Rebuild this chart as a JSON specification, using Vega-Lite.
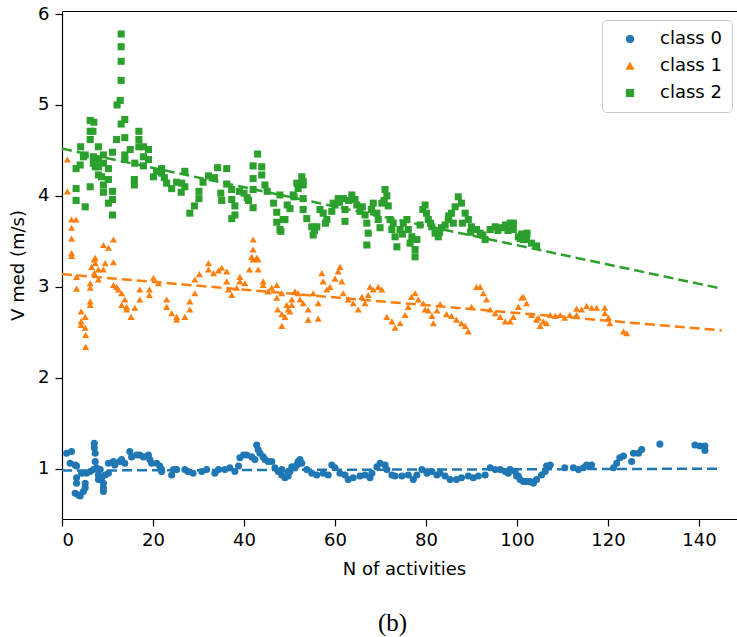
{
"$schema":"https://vega.github.io/schema/vega-lite/v6.json",
"width":675,"height":508,
"autosize":"none",
"padding":{"left":62,"top":11,"right":0,"bottom":118},
"config":{"view":{"stroke":null},"font":"DejaVu Sans",
 "axis":{"domainColor":"black","domainWidth":1.2,"tickColor":"black","tickWidth":1.2,"tickSize":7,"labelFont":"DejaVu Sans","labelFontSize":18,"labelColor":"black","titleFont":"DejaVu Sans","titleFontSize":18,"titleFontWeight":"normal","titleColor":"black","grid":false,"labelPadding":5}},
"title":{"text":"(b)","orient":"bottom","font":"Liberation Serif","fontSize":25,"fontWeight":"normal","offset":33,"dx":-7,"color":"black","anchor":"middle"},
"datasets":{
"fit":[{"n":0,"v":0.98,"c":"class 0"},{"n":145,"v":1.0,"c":"class 0"},{"n":0,"v":3.14,"c":"class 1"},{"n":145,"v":2.52,"c":"class 1"},{"n":0,"v":4.52,"c":"class 2"},{"n":145,"v":2.98,"c":"class 2"}],
"pts":[
{"n":1.0,"v":1.17,"c":"class 0"},{"n":2.1,"v":1.19,"c":"class 0"},{"n":1.8,"v":1.06,"c":"class 0"},{"n":2.9,"v":1.04,"c":"class 0"},{"n":3.2,"v":1.03,"c":"class 0"},{"n":3.2,"v":0.90,"c":"class 0"},{"n":3.2,"v":0.84,"c":"class 0"},{"n":2.9,"v":0.73,"c":"class 0"},{"n":3.6,"v":0.71,"c":"class 0"},{"n":4.0,"v":0.70,"c":"class 0"},{"n":4.7,"v":0.75,"c":"class 0"},{"n":5.1,"v":0.79,"c":"class 0"},{"n":5.1,"v":0.84,"c":"class 0"},{"n":4.3,"v":0.95,"c":"class 0"},{"n":5.4,"v":0.95,"c":"class 0"},{"n":6.2,"v":0.97,"c":"class 0"},{"n":7.1,"v":1.28,"c":"class 0"},{"n":7.1,"v":1.23,"c":"class 0"},{"n":7.3,"v":1.17,"c":"class 0"},{"n":7.3,"v":1.08,"c":"class 0"},{"n":6.9,"v":0.99,"c":"class 0"},{"n":7.6,"v":1.01,"c":"class 0"},{"n":8.4,"v":0.99,"c":"class 0"},{"n":8.0,"v":0.93,"c":"class 0"},{"n":8.0,"v":0.88,"c":"class 0"},{"n":8.7,"v":0.90,"c":"class 0"},{"n":9.1,"v":0.84,"c":"class 0"},{"n":9.1,"v":0.79,"c":"class 0"},{"n":9.1,"v":0.75,"c":"class 0"},{"n":9.5,"v":0.93,"c":"class 0"},{"n":10.2,"v":0.95,"c":"class 0"},{"n":10.2,"v":1.06,"c":"class 0"},{"n":11.3,"v":1.08,"c":"class 0"},{"n":11.6,"v":1.04,"c":"class 0"},{"n":12.7,"v":1.08,"c":"class 0"},{"n":13.1,"v":1.10,"c":"class 0"},{"n":13.8,"v":1.06,"c":"class 0"},{"n":14.9,"v":1.19,"c":"class 0"},{"n":15.3,"v":1.13,"c":"class 0"},{"n":16.4,"v":1.15,"c":"class 0"},{"n":17.1,"v":1.15,"c":"class 0"},{"n":17.9,"v":1.13,"c":"class 0"},{"n":19.0,"v":1.15,"c":"class 0"},{"n":19.3,"v":1.10,"c":"class 0"},{"n":19.7,"v":1.06,"c":"class 0"},{"n":20.8,"v":1.06,"c":"class 0"},{"n":21.5,"v":1.03,"c":"class 0"},{"n":21.9,"v":0.99,"c":"class 0"},{"n":21.9,"v":0.97,"c":"class 0"},{"n":24.1,"v":0.93,"c":"class 0"},{"n":24.5,"v":0.99,"c":"class 0"},{"n":25.2,"v":0.99,"c":"class 0"},{"n":27.0,"v":0.99,"c":"class 0"},{"n":27.7,"v":0.97,"c":"class 0"},{"n":28.8,"v":0.95,"c":"class 0"},{"n":30.7,"v":0.97,"c":"class 0"},{"n":31.8,"v":0.99,"c":"class 0"},{"n":33.6,"v":0.95,"c":"class 0"},{"n":34.4,"v":0.99,"c":"class 0"},{"n":35.8,"v":0.99,"c":"class 0"},{"n":36.9,"v":1.01,"c":"class 0"},{"n":38.0,"v":0.97,"c":"class 0"},{"n":38.8,"v":1.03,"c":"class 0"},{"n":39.1,"v":1.12,"c":"class 0"},{"n":39.9,"v":1.15,"c":"class 0"},{"n":40.6,"v":1.15,"c":"class 0"},{"n":41.7,"v":1.13,"c":"class 0"},{"n":42.4,"v":1.10,"c":"class 0"},{"n":42.8,"v":1.26,"c":"class 0"},{"n":43.1,"v":1.21,"c":"class 0"},{"n":43.5,"v":1.17,"c":"class 0"},{"n":44.2,"v":1.13,"c":"class 0"},{"n":44.6,"v":1.10,"c":"class 0"},{"n":45.3,"v":1.08,"c":"class 0"},{"n":46.1,"v":1.08,"c":"class 0"},{"n":46.8,"v":1.01,"c":"class 0"},{"n":47.5,"v":0.97,"c":"class 0"},{"n":48.3,"v":0.93,"c":"class 0"},{"n":49.0,"v":0.90,"c":"class 0"},{"n":49.7,"v":0.92,"c":"class 0"},{"n":50.1,"v":0.97,"c":"class 0"},{"n":51.2,"v":1.01,"c":"class 0"},{"n":51.9,"v":1.08,"c":"class 0"},{"n":52.7,"v":1.06,"c":"class 0"},
{"n":48.3,"v":0.99,"c":"class 0"},{"n":49.7,"v":0.97,"c":"class 0"},{"n":50.5,"v":1.02,"c":"class 0"},{"n":51.6,"v":1.04,"c":"class 0"},{"n":52.3,"v":1.10,"c":"class 0"},{"n":53.8,"v":0.99,"c":"class 0"},{"n":54.9,"v":0.95,"c":"class 0"},{"n":56.0,"v":0.93,"c":"class 0"},{"n":57.4,"v":0.95,"c":"class 0"},{"n":58.5,"v":0.93,"c":"class 0"},{"n":59.3,"v":1.04,"c":"class 0"},{"n":60.0,"v":1.01,"c":"class 0"},{"n":61.1,"v":0.95,"c":"class 0"},{"n":62.2,"v":0.93,"c":"class 0"},{"n":62.9,"v":0.88,"c":"class 0"},{"n":64.0,"v":0.90,"c":"class 0"},{"n":65.5,"v":0.92,"c":"class 0"},{"n":66.6,"v":0.93,"c":"class 0"},{"n":67.7,"v":0.90,"c":"class 0"},{"n":68.1,"v":0.95,"c":"class 0"},{"n":69.2,"v":1.02,"c":"class 0"},{"n":69.9,"v":1.06,"c":"class 0"},{"n":71.0,"v":1.04,"c":"class 0"},{"n":71.4,"v":0.99,"c":"class 0"},{"n":72.5,"v":0.93,"c":"class 0"},{"n":73.2,"v":0.92,"c":"class 0"},{"n":74.7,"v":0.92,"c":"class 0"},{"n":76.1,"v":0.93,"c":"class 0"},{"n":77.2,"v":0.88,"c":"class 0"},{"n":78.0,"v":0.93,"c":"class 0"},{"n":79.1,"v":0.99,"c":"class 0"},{"n":80.2,"v":0.95,"c":"class 0"},{"n":81.3,"v":0.97,"c":"class 0"},{"n":82.4,"v":0.93,"c":"class 0"},{"n":83.1,"v":0.95,"c":"class 0"},{"n":84.2,"v":0.92,"c":"class 0"},{"n":85.3,"v":0.88,"c":"class 0"},{"n":86.7,"v":0.88,"c":"class 0"},{"n":87.8,"v":0.90,"c":"class 0"},{"n":89.3,"v":0.92,"c":"class 0"},{"n":90.4,"v":0.90,"c":"class 0"},{"n":91.5,"v":0.92,"c":"class 0"},{"n":93.0,"v":0.93,"c":"class 0"},{"n":94.1,"v":1.01,"c":"class 0"},{"n":95.2,"v":0.99,"c":"class 0"},{"n":96.3,"v":0.99,"c":"class 0"},{"n":97.4,"v":0.97,"c":"class 0"},{"n":98.1,"v":0.95,"c":"class 0"},{"n":98.5,"v":0.99,"c":"class 0"},{"n":99.6,"v":0.97,"c":"class 0"},{"n":99.9,"v":0.92,"c":"class 0"},{"n":100.3,"v":0.92,"c":"class 0"},{"n":100.7,"v":0.88,"c":"class 0"},{"n":101.4,"v":0.86,"c":"class 0"},{"n":101.8,"v":0.86,"c":"class 0"},{"n":102.5,"v":0.86,"c":"class 0"},{"n":102.9,"v":0.86,"c":"class 0"},{"n":103.6,"v":0.84,"c":"class 0"},{"n":104.3,"v":0.88,"c":"class 0"},{"n":105.4,"v":0.93,"c":"class 0"},{"n":106.2,"v":0.97,"c":"class 0"},{"n":106.5,"v":1.03,"c":"class 0"},{"n":107.3,"v":1.04,"c":"class 0"},{"n":110.5,"v":1.01,"c":"class 0"},{"n":112.4,"v":1.01,"c":"class 0"},{"n":113.5,"v":0.99,"c":"class 0"},{"n":114.6,"v":1.01,"c":"class 0"},{"n":115.3,"v":1.04,"c":"class 0"},{"n":116.4,"v":1.04,"c":"class 0"},{"n":121.2,"v":1.01,"c":"class 0"},{"n":121.9,"v":1.06,"c":"class 0"},{"n":122.6,"v":1.12,"c":"class 0"},{"n":123.4,"v":1.14,"c":"class 0"},{"n":125.2,"v":1.08,"c":"class 0"},{"n":125.6,"v":1.17,"c":"class 0"},{"n":126.7,"v":1.17,"c":"class 0"},{"n":127.4,"v":1.21,"c":"class 0"},{"n":131.4,"v":1.27,"c":"class 0"},{"n":139.1,"v":1.26,"c":"class 0"},{"n":140.2,"v":1.25,"c":"class 0"},{"n":141.3,"v":1.25,"c":"class 0"},{"n":141.3,"v":1.20,"c":"class 0"},
{"n":1.2,"v":4.40,"c":"class 1"},{"n":1.2,"v":4.05,"c":"class 1"},{"n":2.1,"v":3.74,"c":"class 1"},{"n":3.1,"v":3.74,"c":"class 1"},{"n":2.1,"v":3.65,"c":"class 1"},{"n":2.1,"v":3.53,"c":"class 1"},{"n":2.1,"v":3.37,"c":"class 1"},{"n":2.1,"v":3.34,"c":"class 1"},{"n":7.3,"v":3.32,"c":"class 1"},{"n":9.1,"v":3.46,"c":"class 1"},{"n":10.2,"v":3.43,"c":"class 1"},{"n":11.3,"v":3.52,"c":"class 1"},{"n":42.0,"v":3.52,"c":"class 1"},{"n":42.0,"v":3.41,"c":"class 1"},{"n":41.7,"v":3.33,"c":"class 1"},{"n":42.8,"v":3.32,"c":"class 1"},{"n":3.2,"v":3.11,"c":"class 1"},{"n":3.2,"v":2.98,"c":"class 1"},{"n":4.2,"v":2.73,"c":"class 1"},{"n":4.2,"v":2.62,"c":"class 1"},{"n":4.2,"v":2.58,"c":"class 1"},{"n":5.1,"v":2.67,"c":"class 1"},{"n":5.1,"v":2.55,"c":"class 1"},{"n":5.2,"v":2.47,"c":"class 1"},{"n":5.2,"v":2.34,"c":"class 1"},{"n":6.2,"v":3.04,"c":"class 1"},{"n":6.2,"v":2.99,"c":"class 1"},{"n":6.2,"v":2.84,"c":"class 1"},{"n":6.2,"v":2.80,"c":"class 1"},{"n":6.5,"v":3.22,"c":"class 1"},{"n":7.1,"v":3.30,"c":"class 1"},{"n":7.3,"v":3.26,"c":"class 1"},{"n":7.1,"v":3.15,"c":"class 1"},{"n":8.0,"v":3.19,"c":"class 1"},{"n":8.0,"v":3.08,"c":"class 1"},{"n":9.1,"v":3.19,"c":"class 1"},{"n":9.5,"v":3.26,"c":"class 1"},{"n":11.3,"v":3.27,"c":"class 1"},{"n":11.3,"v":3.02,"c":"class 1"},{"n":12.0,"v":3.00,"c":"class 1"},{"n":12.4,"v":2.97,"c":"class 1"},{"n":13.1,"v":2.93,"c":"class 1"},{"n":13.1,"v":2.80,"c":"class 1"},{"n":13.8,"v":2.86,"c":"class 1"},{"n":14.2,"v":2.78,"c":"class 1"},{"n":14.2,"v":2.75,"c":"class 1"},{"n":15.2,"v":2.67,"c":"class 1"},{"n":16.0,"v":2.77,"c":"class 1"},{"n":17.1,"v":2.97,"c":"class 1"},{"n":17.1,"v":2.86,"c":"class 1"},{"n":19.2,"v":2.97,"c":"class 1"},{"n":19.2,"v":2.91,"c":"class 1"},{"n":20.1,"v":3.10,"c":"class 1"},{"n":21.2,"v":3.04,"c":"class 1"},{"n":23.0,"v":2.86,"c":"class 1"},{"n":23.0,"v":2.78,"c":"class 1"},{"n":24.1,"v":2.71,"c":"class 1"},{"n":25.2,"v":2.67,"c":"class 1"},{"n":25.2,"v":2.64,"c":"class 1"},{"n":27.0,"v":2.67,"c":"class 1"},{"n":28.1,"v":2.75,"c":"class 1"},{"n":28.1,"v":2.84,"c":"class 1"},{"n":29.2,"v":2.93,"c":"class 1"},{"n":29.2,"v":3.08,"c":"class 1"},{"n":30.2,"v":3.14,"c":"class 1"},{"n":32.2,"v":3.26,"c":"class 1"},{"n":32.2,"v":3.19,"c":"class 1"},{"n":33.3,"v":3.15,"c":"class 1"},{"n":34.4,"v":3.18,"c":"class 1"},{"n":35.1,"v":3.21,"c":"class 1"},{"n":36.2,"v":3.17,"c":"class 1"},{"n":36.2,"v":3.06,"c":"class 1"},{"n":36.6,"v":2.97,"c":"class 1"},{"n":37.3,"v":2.91,"c":"class 1"},{"n":38.4,"v":2.99,"c":"class 1"},{"n":39.1,"v":3.11,"c":"class 1"},{"n":39.1,"v":3.06,"c":"class 1"},{"n":40.2,"v":3.04,"c":"class 1"},{"n":41.2,"v":3.19,"c":"class 1"},{"n":42.0,"v":3.30,"c":"class 1"},{"n":43.1,"v":3.30,"c":"class 1"},{"n":43.1,"v":3.19,"c":"class 1"},{"n":44.2,"v":3.06,"c":"class 1"},{"n":44.2,"v":3.02,"c":"class 1"},{"n":45.3,"v":2.95,"c":"class 1"},{"n":46.1,"v":2.99,"c":"class 1"},{"n":47.2,"v":3.02,"c":"class 1"},{"n":47.2,"v":2.88,"c":"class 1"},{"n":47.4,"v":2.75,"c":"class 1"},{"n":48.3,"v":2.70,"c":"class 1"},{"n":48.3,"v":2.57,"c":"class 1"},{"n":49.0,"v":2.67,"c":"class 1"},{"n":49.7,"v":2.75,"c":"class 1"},{"n":50.5,"v":2.80,"c":"class 1"},{"n":51.2,"v":2.95,"c":"class 1"},{"n":52.3,"v":2.86,"c":"class 1"},{"n":53.0,"v":2.82,"c":"class 1"},
{"n":48.3,"v":2.93,"c":"class 1"},{"n":49.4,"v":2.80,"c":"class 1"},{"n":50.1,"v":2.73,"c":"class 1"},{"n":50.5,"v":2.86,"c":"class 1"},{"n":51.9,"v":2.93,"c":"class 1"},{"n":54.1,"v":2.75,"c":"class 1"},{"n":54.1,"v":2.64,"c":"class 1"},{"n":55.2,"v":2.93,"c":"class 1"},{"n":56.3,"v":2.82,"c":"class 1"},{"n":56.3,"v":2.65,"c":"class 1"},{"n":57.1,"v":3.15,"c":"class 1"},{"n":57.4,"v":3.06,"c":"class 1"},{"n":58.2,"v":2.97,"c":"class 1"},{"n":58.9,"v":3.00,"c":"class 1"},{"n":60.0,"v":3.09,"c":"class 1"},{"n":60.7,"v":3.17,"c":"class 1"},{"n":61.1,"v":3.22,"c":"class 1"},{"n":61.5,"v":3.06,"c":"class 1"},{"n":61.8,"v":2.93,"c":"class 1"},{"n":62.9,"v":2.86,"c":"class 1"},{"n":64.0,"v":2.82,"c":"class 1"},{"n":65.1,"v":2.75,"c":"class 1"},{"n":65.9,"v":2.89,"c":"class 1"},{"n":66.6,"v":2.82,"c":"class 1"},{"n":67.3,"v":2.91,"c":"class 1"},{"n":67.7,"v":3.00,"c":"class 1"},{"n":68.4,"v":2.97,"c":"class 1"},{"n":69.5,"v":3.00,"c":"class 1"},{"n":70.3,"v":2.97,"c":"class 1"},{"n":71.4,"v":2.67,"c":"class 1"},{"n":72.5,"v":2.62,"c":"class 1"},{"n":73.2,"v":2.55,"c":"class 1"},{"n":74.3,"v":2.60,"c":"class 1"},{"n":75.4,"v":2.69,"c":"class 1"},{"n":76.1,"v":2.78,"c":"class 1"},{"n":76.8,"v":2.89,"c":"class 1"},{"n":77.6,"v":2.93,"c":"class 1"},{"n":78.3,"v":2.86,"c":"class 1"},{"n":79.4,"v":2.82,"c":"class 1"},{"n":79.8,"v":2.75,"c":"class 1"},{"n":80.5,"v":2.74,"c":"class 1"},{"n":81.3,"v":2.68,"c":"class 1"},{"n":81.6,"v":2.60,"c":"class 1"},{"n":82.4,"v":2.74,"c":"class 1"},{"n":83.1,"v":2.81,"c":"class 1"},{"n":84.5,"v":2.70,"c":"class 1"},{"n":85.6,"v":2.68,"c":"class 1"},{"n":86.7,"v":2.64,"c":"class 1"},{"n":87.8,"v":2.60,"c":"class 1"},{"n":88.6,"v":2.57,"c":"class 1"},{"n":89.3,"v":2.51,"c":"class 1"},{"n":90.0,"v":2.78,"c":"class 1"},{"n":91.1,"v":3.00,"c":"class 1"},{"n":91.9,"v":3.00,"c":"class 1"},{"n":92.6,"v":2.93,"c":"class 1"},{"n":93.3,"v":2.86,"c":"class 1"},{"n":94.1,"v":2.75,"c":"class 1"},{"n":95.2,"v":2.71,"c":"class 1"},{"n":96.3,"v":2.67,"c":"class 1"},{"n":97.4,"v":2.62,"c":"class 1"},{"n":98.5,"v":2.62,"c":"class 1"},{"n":99.2,"v":2.67,"c":"class 1"},{"n":100.3,"v":2.78,"c":"class 1"},{"n":101.0,"v":2.88,"c":"class 1"},{"n":101.4,"v":2.89,"c":"class 1"},{"n":102.1,"v":2.82,"c":"class 1"},{"n":103.2,"v":2.69,"c":"class 1"},{"n":104.3,"v":2.64,"c":"class 1"},{"n":104.7,"v":2.66,"c":"class 1"},{"n":105.1,"v":2.57,"c":"class 1"},{"n":105.8,"v":2.62,"c":"class 1"},{"n":106.5,"v":2.60,"c":"class 1"},{"n":107.3,"v":2.69,"c":"class 1"},{"n":108.4,"v":2.68,"c":"class 1"},{"n":109.5,"v":2.69,"c":"class 1"},{"n":110.5,"v":2.66,"c":"class 1"},{"n":111.6,"v":2.69,"c":"class 1"},{"n":113.1,"v":2.76,"c":"class 1"},{"n":113.1,"v":2.69,"c":"class 1"},{"n":114.2,"v":2.75,"c":"class 1"},{"n":115.3,"v":2.79,"c":"class 1"},{"n":116.4,"v":2.77,"c":"class 1"},{"n":117.5,"v":2.77,"c":"class 1"},{"n":119.3,"v":2.77,"c":"class 1"},{"n":119.3,"v":2.71,"c":"class 1"},{"n":120.1,"v":2.66,"c":"class 1"},{"n":120.4,"v":2.60,"c":"class 1"},{"n":123.4,"v":2.51,"c":"class 1"},{"n":124.1,"v":2.49,"c":"class 1"},
{"n":13.0,"v":5.78,"c":"class 2"},{"n":13.0,"v":5.64,"c":"class 2"},{"n":13.0,"v":5.48,"c":"class 2"},{"n":13.0,"v":5.27,"c":"class 2"},{"n":12.8,"v":5.05,"c":"class 2"},{"n":12.1,"v":5.00,"c":"class 2"},{"n":13.8,"v":4.84,"c":"class 2"},{"n":13.0,"v":4.79,"c":"class 2"},{"n":6.2,"v":4.83,"c":"class 2"},{"n":7.0,"v":4.81,"c":"class 2"},{"n":6.2,"v":4.71,"c":"class 2"},{"n":6.2,"v":4.62,"c":"class 2"},{"n":6.8,"v":4.71,"c":"class 2"},{"n":16.9,"v":4.71,"c":"class 2"},{"n":16.9,"v":4.62,"c":"class 2"},{"n":16.9,"v":4.54,"c":"class 2"},{"n":13.8,"v":4.64,"c":"class 2"},{"n":12.0,"v":4.62,"c":"class 2"},{"n":4.1,"v":4.54,"c":"class 2"},{"n":8.0,"v":4.54,"c":"class 2"},{"n":19.0,"v":4.51,"c":"class 2"},{"n":17.9,"v":4.54,"c":"class 2"},{"n":15.0,"v":4.51,"c":"class 2"},{"n":11.1,"v":4.48,"c":"class 2"},{"n":4.7,"v":4.43,"c":"class 2"},{"n":5.1,"v":4.45,"c":"class 2"},{"n":9.1,"v":4.45,"c":"class 2"},{"n":13.8,"v":4.45,"c":"class 2"},{"n":13.8,"v":4.40,"c":"class 2"},{"n":16.0,"v":4.36,"c":"class 2"},{"n":17.9,"v":4.43,"c":"class 2"},{"n":19.0,"v":4.40,"c":"class 2"},{"n":17.9,"v":4.33,"c":"class 2"},{"n":6.9,"v":4.43,"c":"class 2"},{"n":6.9,"v":4.36,"c":"class 2"},{"n":7.3,"v":4.32,"c":"class 2"},{"n":8.0,"v":4.40,"c":"class 2"},{"n":8.0,"v":4.32,"c":"class 2"},{"n":9.1,"v":4.36,"c":"class 2"},{"n":3.1,"v":4.30,"c":"class 2"},{"n":4.0,"v":4.34,"c":"class 2"},{"n":8.0,"v":4.23,"c":"class 2"},{"n":8.7,"v":4.21,"c":"class 2"},{"n":10.2,"v":4.18,"c":"class 2"},{"n":10.2,"v":4.30,"c":"class 2"},{"n":9.1,"v":4.12,"c":"class 2"},{"n":9.1,"v":4.04,"c":"class 2"},{"n":11.1,"v":4.05,"c":"class 2"},{"n":11.1,"v":3.96,"c":"class 2"},{"n":10.2,"v":3.92,"c":"class 2"},{"n":11.1,"v":3.79,"c":"class 2"},{"n":3.1,"v":4.08,"c":"class 2"},{"n":3.1,"v":3.95,"c":"class 2"},{"n":5.1,"v":3.88,"c":"class 2"},{"n":6.2,"v":4.10,"c":"class 2"},{"n":15.9,"v":4.18,"c":"class 2"},{"n":15.9,"v":4.12,"c":"class 2"},{"n":20.1,"v":4.21,"c":"class 2"},{"n":20.8,"v":4.27,"c":"class 2"},{"n":21.9,"v":4.30,"c":"class 2"},{"n":21.9,"v":4.25,"c":"class 2"},{"n":23.0,"v":4.14,"c":"class 2"},{"n":24.1,"v":4.08,"c":"class 2"},{"n":26.3,"v":4.14,"c":"class 2"},{"n":27.0,"v":4.27,"c":"class 2"},{"n":26.2,"v":4.04,"c":"class 2"},{"n":27.0,"v":4.10,"c":"class 2"},{"n":28.1,"v":3.81,"c":"class 2"},{"n":29.1,"v":3.89,"c":"class 2"},{"n":30.1,"v":4.05,"c":"class 2"},{"n":30.1,"v":3.97,"c":"class 2"},{"n":32.2,"v":4.22,"c":"class 2"},{"n":34.2,"v":4.31,"c":"class 2"},{"n":36.2,"v":4.30,"c":"class 2"},{"n":34.9,"v":4.03,"c":"class 2"},{"n":35.1,"v":3.95,"c":"class 2"},{"n":36.2,"v":4.13,"c":"class 2"},{"n":37.3,"v":4.07,"c":"class 2"},{"n":37.3,"v":3.96,"c":"class 2"},{"n":38.0,"v":3.89,"c":"class 2"},{"n":37.3,"v":3.75,"c":"class 2"},{"n":38.0,"v":3.79,"c":"class 2"},{"n":40.0,"v":4.03,"c":"class 2"},{"n":41.0,"v":3.95,"c":"class 2"},{"n":42.0,"v":3.87,"c":"class 2"},{"n":42.0,"v":4.19,"c":"class 2"},{"n":42.0,"v":4.07,"c":"class 2"},{"n":43.0,"v":4.46,"c":"class 2"},{"n":42.0,"v":4.33,"c":"class 2"},{"n":43.9,"v":4.32,"c":"class 2"},{"n":43.9,"v":4.23,"c":"class 2"},{"n":45.1,"v":4.05,"c":"class 2"},{"n":47.2,"v":3.82,"c":"class 2"},{"n":47.2,"v":3.71,"c":"class 2"},{"n":49.0,"v":3.74,"c":"class 2"},{"n":48.1,"v":3.61,"c":"class 2"},{"n":50.1,"v":3.86,"c":"class 2"},{"n":51.0,"v":3.99,"c":"class 2"},{"n":51.9,"v":4.08,"c":"class 2"},{"n":53.0,"v":4.16,"c":"class 2"},{"n":53.0,"v":3.85,"c":"class 2"},
{"n":47.9,"v":4.01,"c":"class 2"},{"n":48.6,"v":3.74,"c":"class 2"},{"n":47.9,"v":3.63,"c":"class 2"},{"n":50.8,"v":4.01,"c":"class 2"},{"n":51.6,"v":4.14,"c":"class 2"},{"n":52.7,"v":4.21,"c":"class 2"},{"n":53.0,"v":4.12,"c":"class 2"},{"n":53.0,"v":3.97,"c":"class 2"},{"n":54.9,"v":3.66,"c":"class 2"},{"n":55.2,"v":3.57,"c":"class 2"},{"n":56.0,"v":3.66,"c":"class 2"},{"n":56.7,"v":3.85,"c":"class 2"},{"n":57.4,"v":3.81,"c":"class 2"},{"n":58.2,"v":3.74,"c":"class 2"},{"n":59.3,"v":3.83,"c":"class 2"},{"n":59.6,"v":3.92,"c":"class 2"},{"n":60.7,"v":3.97,"c":"class 2"},{"n":61.8,"v":3.97,"c":"class 2"},{"n":62.2,"v":3.85,"c":"class 2"},{"n":62.2,"v":3.72,"c":"class 2"},{"n":63.7,"v":4.01,"c":"class 2"},{"n":64.4,"v":3.96,"c":"class 2"},{"n":64.8,"v":3.90,"c":"class 2"},{"n":65.5,"v":3.83,"c":"class 2"},{"n":66.6,"v":3.79,"c":"class 2"},{"n":67.0,"v":3.70,"c":"class 2"},{"n":67.3,"v":3.59,"c":"class 2"},{"n":67.0,"v":3.46,"c":"class 2"},{"n":68.4,"v":3.92,"c":"class 2"},{"n":69.2,"v":3.81,"c":"class 2"},{"n":69.5,"v":3.74,"c":"class 2"},{"n":69.9,"v":3.65,"c":"class 2"},{"n":70.3,"v":3.92,"c":"class 2"},{"n":71.0,"v":4.07,"c":"class 2"},{"n":71.4,"v":4.00,"c":"class 2"},{"n":71.7,"v":3.89,"c":"class 2"},{"n":72.1,"v":3.74,"c":"class 2"},{"n":72.5,"v":3.63,"c":"class 2"},{"n":73.2,"v":3.55,"c":"class 2"},{"n":73.6,"v":3.44,"c":"class 2"},{"n":74.3,"v":3.63,"c":"class 2"},{"n":75.0,"v":3.70,"c":"class 2"},{"n":75.8,"v":3.74,"c":"class 2"},{"n":76.1,"v":3.63,"c":"class 2"},{"n":76.5,"v":3.48,"c":"class 2"},{"n":76.9,"v":3.55,"c":"class 2"},{"n":77.6,"v":3.41,"c":"class 2"},{"n":77.6,"v":3.33,"c":"class 2"},{"n":78.0,"v":3.52,"c":"class 2"},{"n":79.8,"v":3.90,"c":"class 2"},{"n":80.1,"v":3.81,"c":"class 2"},{"n":80.5,"v":3.74,"c":"class 2"},{"n":81.3,"v":3.66,"c":"class 2"},{"n":82.0,"v":3.59,"c":"class 2"},{"n":82.7,"v":3.55,"c":"class 2"},{"n":83.4,"v":3.65,"c":"class 2"},{"n":84.2,"v":3.68,"c":"class 2"},{"n":84.9,"v":3.74,"c":"class 2"},{"n":85.6,"v":3.81,"c":"class 2"},{"n":86.4,"v":3.88,"c":"class 2"},{"n":87.1,"v":3.99,"c":"class 2"},{"n":87.8,"v":3.92,"c":"class 2"},{"n":88.6,"v":3.81,"c":"class 2"},{"n":89.3,"v":3.74,"c":"class 2"},{"n":90.0,"v":3.66,"c":"class 2"},{"n":91.1,"v":3.63,"c":"class 2"},{"n":91.9,"v":3.59,"c":"class 2"},{"n":93.0,"v":3.52,"c":"class 2"},{"n":94.1,"v":3.63,"c":"class 2"},{"n":95.2,"v":3.66,"c":"class 2"},{"n":96.6,"v":3.65,"c":"class 2"},{"n":98.5,"v":3.70,"c":"class 2"},{"n":99.2,"v":3.63,"c":"class 2"},{"n":99.2,"v":3.70,"c":"class 2"},{"n":100.3,"v":3.55,"c":"class 2"},{"n":100.7,"v":3.53,"c":"class 2"},{"n":101.4,"v":3.52,"c":"class 2"},{"n":102.1,"v":3.52,"c":"class 2"},{"n":102.2,"v":3.59,"c":"class 2"},{"n":103.2,"v":3.48,"c":"class 2"},{"n":104.3,"v":3.45,"c":"class 2"},
{"n":60.0,"v":3.90,"c":"class 2"},{"n":61.0,"v":3.93,"c":"class 2"},{"n":63.0,"v":3.95,"c":"class 2"},{"n":66.0,"v":3.88,"c":"class 2"},{"n":68.0,"v":3.85,"c":"class 2"},{"n":70.8,"v":3.95,"c":"class 2"},{"n":72.8,"v":3.70,"c":"class 2"},{"n":74.8,"v":3.58,"c":"class 2"},{"n":78.7,"v":3.68,"c":"class 2"},{"n":79.3,"v":3.85,"c":"class 2"},{"n":81.0,"v":3.70,"c":"class 2"},{"n":83.0,"v":3.60,"c":"class 2"},{"n":85.0,"v":3.78,"c":"class 2"},{"n":86.0,"v":3.70,"c":"class 2"},{"n":88.0,"v":3.70,"c":"class 2"},{"n":89.8,"v":3.60,"c":"class 2"},{"n":92.5,"v":3.57,"c":"class 2"},{"n":95.8,"v":3.62,"c":"class 2"},{"n":97.5,"v":3.68,"c":"class 2"},{"n":98.0,"v":3.62,"c":"class 2"},{"n":101.0,"v":3.58,"c":"class 2"},{"n":57.9,"v":3.70,"c":"class 2"},{"n":55.5,"v":3.62,"c":"class 2"},{"n":53.8,"v":3.75,"c":"class 2"},{"n":49.5,"v":3.90,"c":"class 2"},{"n":46.5,"v":3.92,"c":"class 2"},{"n":44.6,"v":4.12,"c":"class 2"},{"n":40.7,"v":3.98,"c":"class 2"},{"n":39.0,"v":4.05,"c":"class 2"},{"n":33.5,"v":4.20,"c":"class 2"},{"n":31.0,"v":4.15,"c":"class 2"},{"n":25.2,"v":4.15,"c":"class 2"},{"n":22.5,"v":4.20,"c":"class 2"}
]},
"resolve":{"axis":{"x":"independent"}},
"layer":[
{"data":{"name":"pts"},
 "mark":{"type":"point","filled":true,"opacity":1,"size":50},
 "encoding":{
  "x":{"field":"n","type":"quantitative","scale":{"domain":[0,148.35],"nice":false,"zero":false},
   "axis":{"values":[0,20,40,60,80,100,120,140],"format":"d","title":"N of activities","titlePadding":11,"titleX":342}},
  "y":{"field":"v","type":"quantitative","scale":{"domain":[0.447,6.033],"nice":false,"zero":false},
   "axis":{"values":[1,2,3,4,5,6],"format":"d","title":"V med (m/s)","titlePadding":10,"labelPadding":6}},
  "color":{"field":"c","type":"nominal","scale":{"domain":["class 0","class 1","class 2"],"range":["#1f77b4","#ff7f0e","#2ca02c"]},
   "legend":{"title":null,"orient":"none","legendX":540,"legendY":9,"strokeColor":"#cccccc","fillColor":"white","padding":10,"cornerRadius":4,"labelFontSize":18,"labelFont":"DejaVu Sans","labelColor":"black","symbolSize":45,"symbolOffset":9,"labelOffset":21,"rowPadding":9}},
  "shape":{"field":"c","type":"nominal","scale":{"domain":["class 0","class 1","class 2"],"range":["circle","triangle-up","square"]},
   "legend":{"title":null,"orient":"none","legendX":540,"legendY":9,"strokeColor":"#cccccc","fillColor":"white","padding":10,"cornerRadius":4,"labelFontSize":18,"labelFont":"DejaVu Sans","labelColor":"black","symbolSize":45,"symbolOffset":9,"labelOffset":21,"rowPadding":9}}
 }},
{"data":{"name":"fit"},
 "mark":{"type":"line","strokeDash":[10,5],"strokeWidth":2.5},
 "encoding":{
  "x":{"field":"n","type":"quantitative","axis":{"orient":"top","labels":false,"ticks":false,"title":null,"domain":true}},
  "y":{"field":"v","type":"quantitative"},
  "color":{"field":"c","type":"nominal","legend":null},
  "detail":{"field":"c"}
 }}
]
}
